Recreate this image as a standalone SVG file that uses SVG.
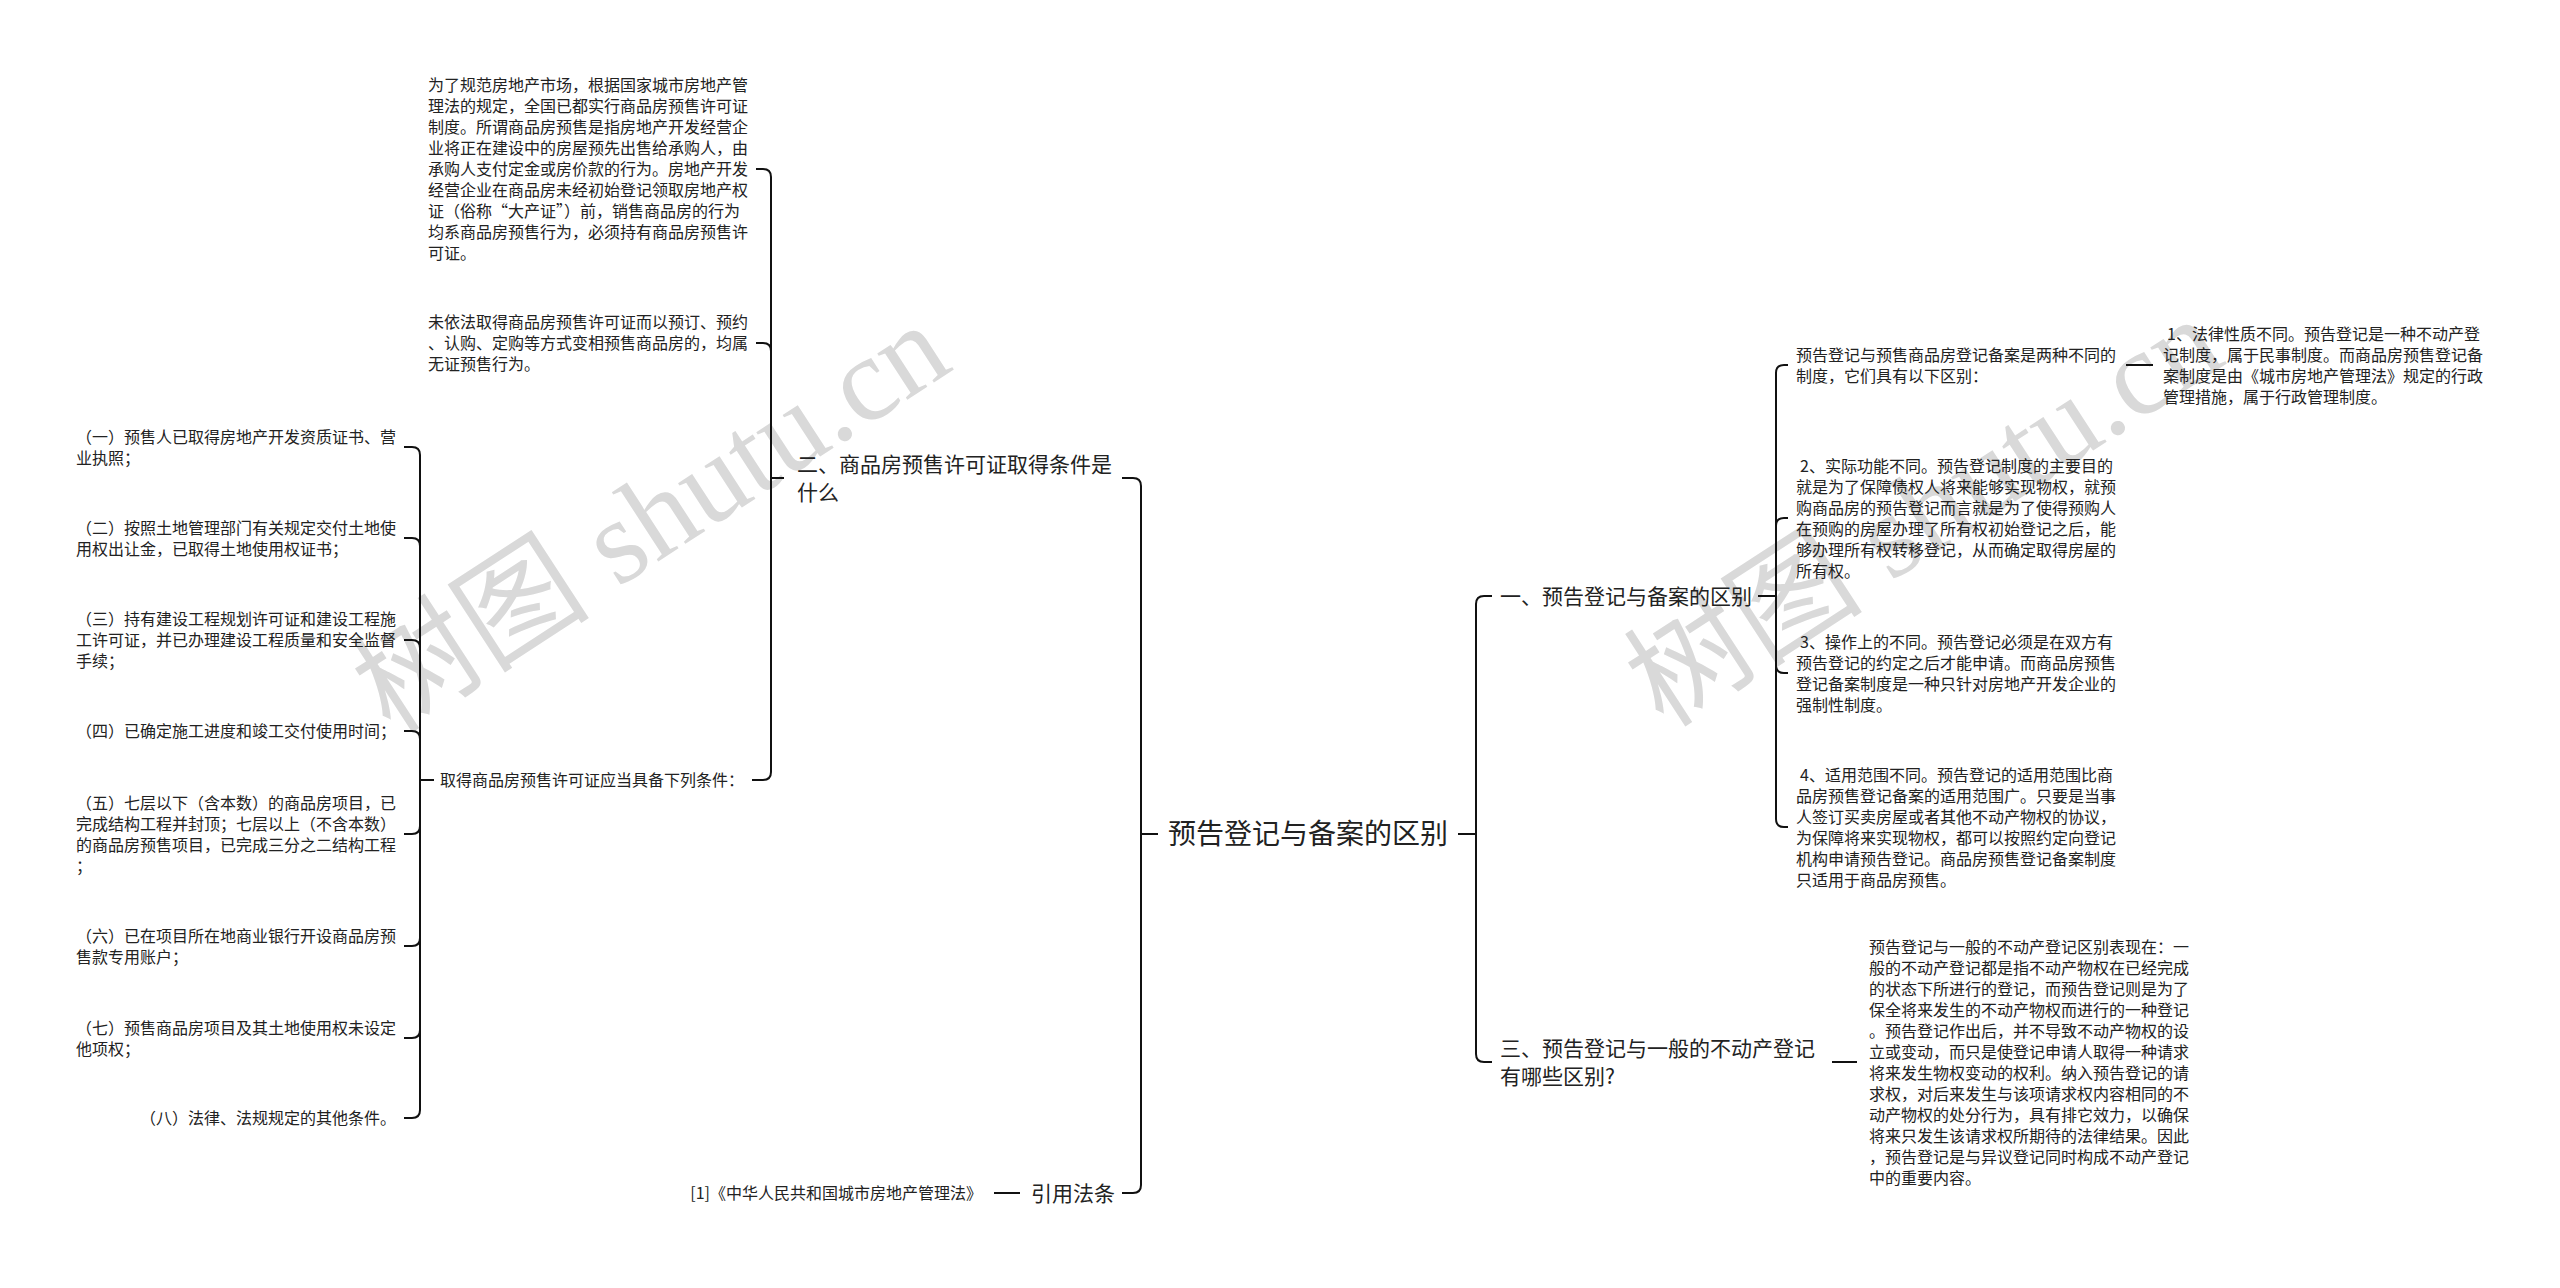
<svg xmlns="http://www.w3.org/2000/svg" width="2560" height="1288" viewBox="0 0 2560 1288">
<style>
.t{font-family:"Noto Sans CJK SC","Liberation Sans",sans-serif;font-size:16px;fill:#222;}
.m{font-size:21px;}
.r{font-size:28px;}
.e{text-anchor:end;}
.wm{font-family:"Liberation Serif","Noto Sans CJK SC",serif;font-size:120px;fill:#d9d9d9;text-anchor:middle;dominant-baseline:central;}
.c{fill:none;stroke:#111;stroke-width:2;}
</style>
<rect x="0" y="0" width="2560" height="1288" fill="#ffffff"/>
<g id="watermark">
<text class="wm" transform="translate(651,518) rotate(-33)">树图 shutu.cn</text>
<text class="wm" transform="translate(1924,512) rotate(-33)">树图 shutu.cn</text>
</g>
<g id="connectors">
<path class="c" d="M1158,834 H1141 V486 Q1141,478 1133,478 H1122"/>
<path class="c" d="M1158,834 H1141 V1185 Q1141,1193 1133,1193 H1122"/>
<path class="c" d="M1458,834 H1476 V604 Q1476,596 1484,596 H1492"/>
<path class="c" d="M1458,834 H1476 V1054 Q1476,1062 1484,1062 H1492"/>
<path class="c" d="M784,478 H771 V177 Q771,169 763,169 H756"/>
<path class="c" d="M784,478 H771 V351 Q771,343 763,343 H756"/>
<path class="c" d="M784,478 H771 V772 Q771,780 763,780 H752"/>
<path class="c" d="M434,780 H420 V455 Q420,447 412,447 H404"/>
<path class="c" d="M434,780 H420 V546 Q420,538 412,538 H404"/>
<path class="c" d="M434,780 H420 V648 Q420,640 412,640 H404"/>
<path class="c" d="M434,780 H420 V739 Q420,731 412,731 H404"/>
<path class="c" d="M434,780 H420 V826 Q420,834 412,834 H404"/>
<path class="c" d="M434,780 H420 V938 Q420,946 412,946 H404"/>
<path class="c" d="M434,780 H420 V1030 Q420,1038 412,1038 H404"/>
<path class="c" d="M434,780 H420 V1110 Q420,1118 412,1118 H404"/>
<path class="c" d="M1758,596 H1776 V373 Q1776,365 1784,365 H1788"/>
<path class="c" d="M1758,596 H1776 V526 Q1776,518 1784,518 H1788"/>
<path class="c" d="M1758,596 H1776 V665 Q1776,673 1784,673 H1788"/>
<path class="c" d="M1758,596 H1776 V819 Q1776,827 1784,827 H1788"/>
<path class="c" d="M2126,365 H2153"/>
<path class="c" d="M1832,1062 H1857"/>
<path class="c" d="M994,1193 H1020"/>
</g>
<g id="root">
<text class="t r" x="1308" y="844" text-anchor="middle">预告登记与备案的区别</text>
</g>
<g id="n2">
<text class="t m" x="797"><tspan x="797" y="471.5">二、商品房预售许可证取得条件是</tspan><tspan x="797" y="499.5">什么</tspan></text>
</g>
<g id="n2a">
<text class="t" x="428"><tspan x="428" y="91">为了规范房地产市场，根据国家城市房地产管</tspan><tspan x="428" y="112">理法的规定，全国已都实行商品房预售许可证</tspan><tspan x="428" y="133">制度。所谓商品房预售是指房地产开发经营企</tspan><tspan x="428" y="154">业将正在建设中的房屋预先出售给承购人，由</tspan><tspan x="428" y="175">承购人支付定金或房价款的行为。房地产开发</tspan><tspan x="428" y="196">经营企业在商品房未经初始登记领取房地产权</tspan><tspan x="428" y="217">证（俗称“大产证”）前，销售商品房的行为</tspan><tspan x="428" y="238">均系商品房预售行为，必须持有商品房预售许</tspan><tspan x="428" y="259">可证。</tspan></text>
</g>
<g id="n2b">
<text class="t" x="428"><tspan x="428" y="328">未依法取得商品房预售许可证而以预订、预约</tspan><tspan x="428" y="349">、认购、定购等方式变相预售商品房的，均属</tspan><tspan x="428" y="370">无证预售行为。</tspan></text>
</g>
<g id="n2c">
<text class="t" x="440" y="786">取得商品房预售许可证应当具备下列条件：</text>
</g>
<g id="item1">
<text class="t"><tspan x="76" y="442.5">（一）预售人已取得房地产开发资质证书、营</tspan><tspan x="76" y="463.5">业执照；</tspan></text>
</g>
<g id="item2">
<text class="t"><tspan x="76" y="533.5">（二）按照土地管理部门有关规定交付土地使</tspan><tspan x="76" y="554.5">用权出让金，已取得土地使用权证书；</tspan></text>
</g>
<g id="item3">
<text class="t"><tspan x="76" y="625">（三）持有建设工程规划许可证和建设工程施</tspan><tspan x="76" y="646">工许可证，并已办理建设工程质量和安全监督</tspan><tspan x="76" y="667">手续；</tspan></text>
</g>
<g id="item4">
<text class="t" x="76" y="737">（四）已确定施工进度和竣工交付使用时间；</text>
</g>
<g id="item5">
<text class="t"><tspan x="76" y="808.5">（五）七层以下（含本数）的商品房项目，已</tspan><tspan x="76" y="829.5">完成结构工程并封顶；七层以上（不含本数）</tspan><tspan x="76" y="850.5">的商品房预售项目，已完成三分之二结构工程</tspan><tspan x="76" y="871.5">；</tspan></text>
</g>
<g id="item6">
<text class="t"><tspan x="76" y="941.5">（六）已在项目所在地商业银行开设商品房预</tspan><tspan x="76" y="962.5">售款专用账户；</tspan></text>
</g>
<g id="item7">
<text class="t"><tspan x="76" y="1033.5">（七）预售商品房项目及其土地使用权未设定</tspan><tspan x="76" y="1054.5">他项权；</tspan></text>
</g>
<g id="item8">
<text class="t e" x="396" y="1124">（八）法律、法规规定的其他条件。</text>
</g>
<g id="ref">
<text class="t m e" x="1115" y="1200.5">引用法条</text>
</g>
<g id="ref1">
<text class="t e" x="982" y="1199">[1]《中华人民共和国城市房地产管理法》</text>
</g>
<g id="n1">
<text class="t m" x="1500" y="603.5">一、预告登记与备案的区别</text>
</g>
<g id="n1a">
<text class="t"><tspan x="1796" y="360.5">预告登记与预售商品房登记备案是两种不同的</tspan><tspan x="1796" y="381.5">制度，它们具有以下区别：</tspan></text>
</g>
<g id="n1a1">
<text class="t"><tspan x="2167" y="339.5">1、法律性质不同。预告登记是一种不动产登</tspan><tspan x="2163" y="360.5">记制度，属于民事制度。而商品房预售登记备</tspan><tspan x="2163" y="381.5">案制度是由《城市房地产管理法》规定的行政</tspan><tspan x="2163" y="402.5">管理措施，属于行政管理制度。</tspan></text>
</g>
<g id="n1b">
<text class="t"><tspan x="1800" y="471.5">2、实际功能不同。预告登记制度的主要目的</tspan><tspan x="1796" y="492.5">就是为了保障债权人将来能够实现物权，就预</tspan><tspan x="1796" y="513.5">购商品房的预告登记而言就是为了使得预购人</tspan><tspan x="1796" y="534.5">在预购的房屋办理了所有权初始登记之后，能</tspan><tspan x="1796" y="555.5">够办理所有权转移登记，从而确定取得房屋的</tspan><tspan x="1796" y="576.5">所有权。</tspan></text>
</g>
<g id="n1c">
<text class="t"><tspan x="1800" y="647.5">3、操作上的不同。预告登记必须是在双方有</tspan><tspan x="1796" y="668.5">预告登记的约定之后才能申请。而商品房预售</tspan><tspan x="1796" y="689.5">登记备案制度是一种只针对房地产开发企业的</tspan><tspan x="1796" y="710.5">强制性制度。</tspan></text>
</g>
<g id="n1d">
<text class="t"><tspan x="1800" y="780.5">4、适用范围不同。预告登记的适用范围比商</tspan><tspan x="1796" y="801.5">品房预售登记备案的适用范围广。只要是当事</tspan><tspan x="1796" y="822.5">人签订买卖房屋或者其他不动产物权的协议，</tspan><tspan x="1796" y="843.5">为保障将来实现物权，都可以按照约定向登记</tspan><tspan x="1796" y="864.5">机构申请预告登记。商品房预售登记备案制度</tspan><tspan x="1796" y="885.5">只适用于商品房预售。</tspan></text>
</g>
<g id="n3">
<text class="t m"><tspan x="1500" y="1055.5">三、预告登记与一般的不动产登记</tspan><tspan x="1500" y="1083.5">有哪些区别?</tspan></text>
</g>
<g id="n3a">
<text class="t"><tspan x="1869" y="952.5">预告登记与一般的不动产登记区别表现在：一</tspan><tspan x="1869" y="973.5">般的不动产登记都是指不动产物权在已经完成</tspan><tspan x="1869" y="994.5">的状态下所进行的登记，而预告登记则是为了</tspan><tspan x="1869" y="1015.5">保全将来发生的不动产物权而进行的一种登记</tspan><tspan x="1869" y="1036.5">。预告登记作出后，并不导致不动产物权的设</tspan><tspan x="1869" y="1057.5">立或变动，而只是使登记申请人取得一种请求</tspan><tspan x="1869" y="1078.5">将来发生物权变动的权利。纳入预告登记的请</tspan><tspan x="1869" y="1099.5">求权，对后来发生与该项请求权内容相同的不</tspan><tspan x="1869" y="1120.5">动产物权的处分行为，具有排它效力，以确保</tspan><tspan x="1869" y="1141.5">将来只发生该请求权所期待的法律结果。因此</tspan><tspan x="1869" y="1162.5">，预告登记是与异议登记同时构成不动产登记</tspan><tspan x="1869" y="1183.5">中的重要内容。</tspan></text>
</g>
</svg>
